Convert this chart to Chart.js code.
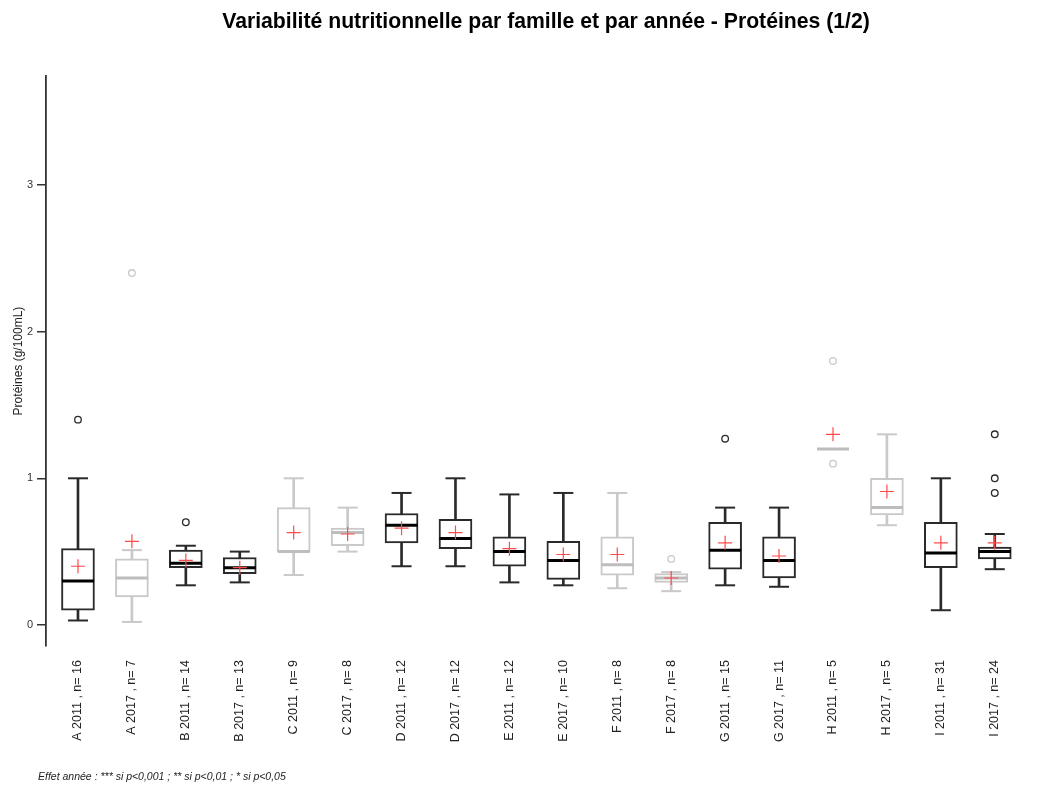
<!DOCTYPE html>
<html lang="fr">
<head>
<meta charset="utf-8">
<title>Variabilité nutritionnelle - Protéines (1/2)</title>
<script src="https://cdn.jsdelivr.net/npm/chart.js@4.4.1/dist/chart.umd.min.js"></script>
<style>
  html, body { margin: 0; padding: 0; background: #fff; }
  #wrap { width: 1048px; height: 787px; position: relative; }
</style>
</head>
<body>
<div id="wrap"><canvas id="proteines"></canvas></div>
<script>
// one box per family and year (g/100mL)
const groups = [
  "A 2011 , n= 16", "A 2017 , n= 7", "B 2011 , n= 14", "B 2017 , n= 13",
  "C 2011 , n= 9", "C 2017 , n= 8", "D 2011 , n= 12", "D 2017 , n= 12",
  "E 2011 , n= 12", "E 2017 , n= 10", "F 2011 , n= 8", "F 2017 , n= 8",
  "G 2011 , n= 15", "G 2017 , n= 11", "H 2011 , n= 5", "H 2017 , n= 5",
  "I 2011 , n= 31", "I 2017 , n= 24"
];
const whiskerLow  = [0.03, 0.02, 0.27, 0.29, 0.34, 0.50, 0.40, 0.40, 0.29, 0.27, 0.25, 0.23, 0.27, 0.26, 1.20, 0.68, 0.10, 0.38];
const q1          = [0.10, 0.19, 0.39, 0.35, 0.50, 0.54, 0.56, 0.52, 0.40, 0.31, 0.34, 0.29, 0.38, 0.32, 1.20, 0.75, 0.39, 0.45];
const medians     = [0.30, 0.32, 0.42, 0.39, 0.50, 0.63, 0.68, 0.59, 0.50, 0.44, 0.41, 0.32, 0.51, 0.44, 1.20, 0.80, 0.49, 0.50];
const q3          = [0.52, 0.45, 0.51, 0.46, 0.80, 0.66, 0.76, 0.72, 0.60, 0.57, 0.60, 0.35, 0.70, 0.60, 1.20, 1.00, 0.70, 0.53];
const whiskerHigh = [1.00, 0.51, 0.54, 0.50, 1.00, 0.80, 0.90, 1.00, 0.89, 0.90, 0.90, 0.36, 0.80, 0.80, 1.20, 1.30, 1.00, 0.62];
const means       = [0.40, 0.57, 0.44, 0.39, 0.63, 0.62, 0.66, 0.63, 0.52, 0.48, 0.48, 0.32, 0.56, 0.47, 1.30, 0.91, 0.56, 0.56];
const outliers = [
  [1.40], [2.40], [0.70], [], [], [], [], [], [], [],
  [], [0.45], [1.27], [], [1.80, 1.10], [], [], [1.30, 1.00, 0.90]
];
const yTicks = [0, 1, 2, 3];
const footnoteText = "Effet année : *** si p<0,001 ; ** si p<0,01 ; * si p<0,05";

// greyed boxes
const faded = [false, true, false, false, true, true, false, false, false,
               false, true, true, false, false, true, true, false, false];
const DARK = "#2a2a2a";
const LIGHT = "#c9c9c9";
const RED = "#ff4a4a";
const FONT = "\"Liberation Sans\", Arial, sans-serif";
const colours = faded.map(f => f ? LIGHT : DARK);

const at = (values) => values.map((v, i) => ({ x: i, y: v }));

const outlierPoints = [];
const outlierColours = [];
outliers.forEach((list, i) => {
  list.forEach(v => {
    outlierPoints.push({ x: i, y: v });
    outlierColours.push(colours[i]);
  });
});

const footnote = {
  id: "footnote",
  afterDraw(chart) {
    const ctx = chart.ctx;
    ctx.save();
    ctx.font = "italic 10.5px " + FONT;
    ctx.fillStyle = "#222";
    ctx.textBaseline = "middle";
    ctx.fillText(footnoteText, 38, 777);
    ctx.restore();
  }
};

Chart.defaults.font.family = FONT;

new Chart(document.getElementById("proteines"), {
  type: "bar",
  data: {
    datasets: [
      {
        label: "whiskers",
        data: groups.map((g, i) => ({ x: i, y: [whiskerLow[i], whiskerHigh[i]] })),
        backgroundColor: colours,
        borderWidth: 0,
        barThickness: 2,
        grouped: false,
        order: 6
      },
      {
        label: "boxes",
        data: groups.map((g, i) => ({ x: i, y: [q1[i], q3[i]] })),
        backgroundColor: "#ffffff",
        borderColor: colours,
        borderWidth: 2,
        borderSkipped: false,
        barThickness: 33,
        grouped: false,
        order: 5
      },
      {
        type: "scatter",
        label: "caps",
        data: at(whiskerLow).concat(at(whiskerHigh)),
        pointStyle: "line",
        pointRadius: 10,
        pointBorderWidth: 2,
        pointBorderColor: colours.concat(colours),
        order: 4
      },
      {
        type: "scatter",
        label: "medians",
        data: at(medians),
        pointStyle: "line",
        pointRadius: 16,
        pointBorderWidth: 3,
        pointBorderColor: faded.map(f => f ? "#bdbdbd" : "#000"),
        order: 3
      },
      {
        type: "scatter",
        label: "outliers",
        data: outlierPoints,
        pointStyle: "circle",
        pointRadius: 3.3,
        pointBorderWidth: 1.3,
        pointBackgroundColor: "rgba(0,0,0,0)",
        pointBorderColor: outlierColours,
        order: 2
      },
      {
        type: "scatter",
        label: "means",
        data: at(means),
        pointStyle: "cross",
        pointRadius: 7,
        pointBorderWidth: 1.2,
        pointBorderColor: RED,
        order: 1
      }
    ]
  },
  options: {
    responsive: true,
    maintainAspectRatio: false,
    animation: false,
    events: [],
    layout: { autoPadding: false, padding: { left: 0, right: 2, top: 0, bottom: 0 } },
    plugins: {
      legend: { display: false },
      tooltip: { enabled: false },
      title: {
        display: true,
        fullSize: false,
        text: "Variabilité nutritionnelle par famille et par année - Protéines (1/2)",
        color: "#000",
        font: { size: 21.2, weight: "bold" },
        padding: { top: 9.3, bottom: 41.3 }
      }
    },
    scales: {
      x: {
        type: "linear",
        min: -0.593,
        max: 17.95,
        offset: false,
        afterBuildTicks: (scale) => {
          scale.ticks = groups.map((g, i) => ({ value: i }));
        },
        afterFit: (scale) => {
          scale.height = 141;
          scale.paddingLeft = 0;
          scale.paddingRight = 0;
        },
        grid: { display: false, drawTicks: false, tickLength: 0 },
        border: { display: false },
        ticks: {
          autoSkip: false,
          minRotation: 90,
          maxRotation: 90,
          padding: 14,
          color: "#222",
          font: { size: 12.5 },
          callback: (v) => groups[v]
        }
      },
      y: {
        min: -0.144,
        max: 3.744,
        afterBuildTicks: (scale) => {
          scale.ticks = yTicks.map(v => ({ value: v }));
        },
        afterFit: (scale) => { scale.width = 46; },
        grid: { drawOnChartArea: false, drawTicks: true, tickLength: 9, color: "#333", lineWidth: 1.5 },
        border: { color: "#333", width: 1.8 },
        ticks: { padding: 4, color: "#333", font: { size: 11 } },
        title: {
          display: true,
          text: "Protéines (g/100mL)",
          color: "#222",
          font: { size: 12 },
          padding: { top: 11, bottom: 0 }
        }
      }
    }
  },
  plugins: [footnote]
});
</script>
</body>
</html>
